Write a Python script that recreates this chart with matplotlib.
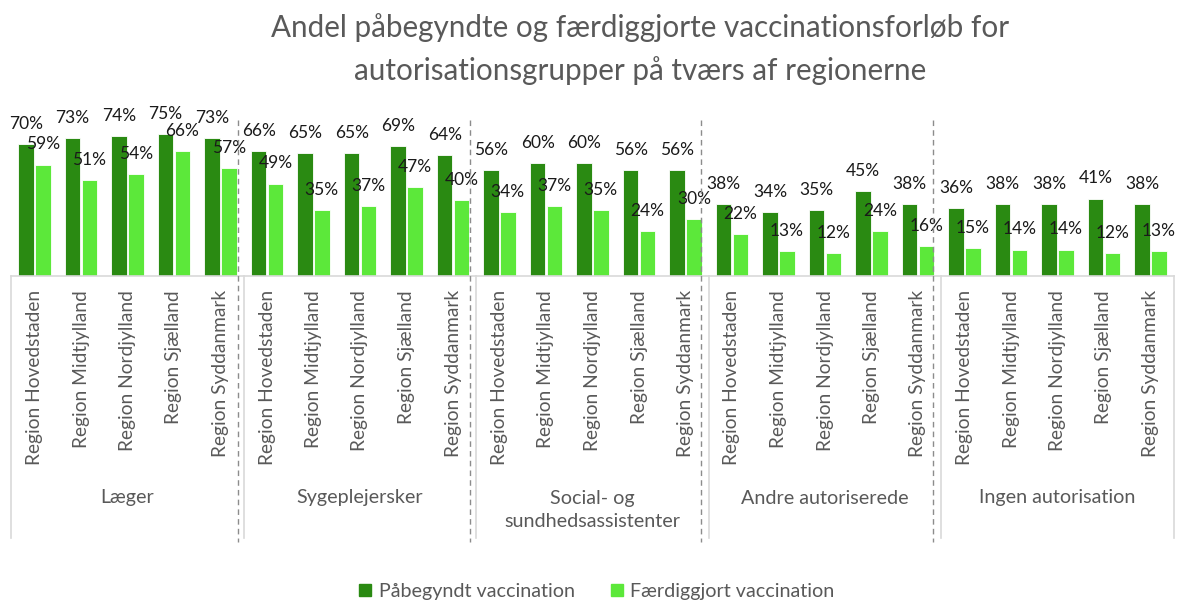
import matplotlib
matplotlib.use("Agg")
import matplotlib.pyplot as plt
import matplotlib.transforms as mtransforms
from matplotlib.lines import Line2D
import numpy as np

plt.rcParams['font.family'] = ['Lato', 'DejaVu Sans']

groups = ["Læger", "Sygeplejersker", "Social- og\nsundhedsassistenter",
          "Andre autoriserede", "Ingen autorisation"]
regions = ["Region Hovedstaden", "Region Midtjylland", "Region Nordjylland",
           "Region Sjælland", "Region Syddanmark"]
paabegyndt = [70, 73, 74, 75, 73,
              66, 65, 65, 69, 64,
              56, 60, 60, 56, 56,
              38, 34, 35, 45, 38,
              36, 38, 38, 41, 38]
faerdig = [59, 51, 54, 66, 57,
           49, 35, 37, 47, 40,
           34, 37, 35, 24, 30,
           22, 13, 12, 24, 16,
           15, 14, 14, 12, 13]
series_names = ["Påbegyndt vaccination", "Færdiggjort vaccination"]
colors = ["#2A8A12", "#5CE83A"]
gray = "#595959"
linegray = "#D9D9D9"

W, H = 1183, 600
fig = plt.figure(figsize=(W / 100, H / 100), dpi=100)
ax_left, ax_right = 11.25, 1173.75
ax_bottom_px, ax_top_px = 276, 125
ax = fig.add_axes([ax_left / W, 1 - ax_bottom_px / H,
                   (ax_right - ax_left) / W, (ax_bottom_px - ax_top_px) / H])

n = len(paabegyndt)
x = np.arange(n)
bw = 0.335
off = 0.18
b1 = ax.bar(x - off, paabegyndt, bw, color=colors[0], edgecolor="white", linewidth=0.6)
b2 = ax.bar(x + off, faerdig, bw, color=colors[1], edgecolor="white", linewidth=0.6)
ax.set_xlim(-0.5, n - 0.5)
ax.set_ylim(0, 80)

for bars, vals in ((b1, paabegyndt), (b2, faerdig)):
    for r, v in zip(bars, vals):
        ax.annotate(f"{v}%", (r.get_x() + r.get_width() / 2, v),
                    xytext=(0, 14.5), textcoords="offset points",
                    ha="center", va="center", fontsize=12.5, color="#1a1a1a",
                    annotation_clip=False)

for s in ["top", "right", "left"]:
    ax.spines[s].set_visible(False)
ax.spines["bottom"].set_color(linegray)
ax.spines["bottom"].set_linewidth(1.2)
ax.set_yticks([])
ax.set_xticks([])

# multi-level category axis
trans = mtransforms.blended_transform_factory(ax.transData, fig.transFigure)
def fy(px):
    return 1 - px / H

for i in range(n):
    ax.text(i, fy(290), regions[i % 5], transform=trans, rotation=90,
            ha="center", va="top", fontsize=13.8, color=gray)
for g, name in enumerate(groups):
    cx = g * 5 + 2
    if "\n" in name:
        ax.text(cx, fy(510), name, transform=trans, ha="center", va="center",
                fontsize=14.2, color=gray, linespacing=1.4)
    else:
        ax.text(cx, fy(498), name, transform=trans, ha="center", va="center",
                fontsize=14.2, color=gray)

for b in range(len(groups) + 1):
    xb = b * 5 - 0.5
    fig.add_artist(Line2D([xb, xb], [fy(276), fy(538)], transform=trans,
                          color=linegray, linewidth=1.2))
    if 0 < b < len(groups):
        xd = xb - 0.1 - 0.02 * b
        fig.add_artist(Line2D([xd, xd], [fy(120), fy(542)], transform=trans,
                              color="#8c8c8c", linewidth=1.0, linestyle=(0, (4, 3))))

fig.text(640 / W, fy(49), "Andel påbegyndte og færdiggjorte vaccinationsforløb for\n"
         "autorisationsgrupper på tværs af regionerne",
         ha="center", va="center", fontsize=21.3, color=gray, linespacing=1.55)

handles = [plt.Line2D([], [], marker="s", linestyle="none", markersize=9,
                      markerfacecolor=c, markeredgecolor=c) for c in colors]
fig.legend(handles, series_names, loc="center", bbox_to_anchor=(595 / W, fy(591)),
           ncol=2, frameon=False, fontsize=14.2, labelcolor=gray,
           handletextpad=0.2, columnspacing=1.6, handlelength=1.0)

fig.savefig("out.png", dpi=100)
